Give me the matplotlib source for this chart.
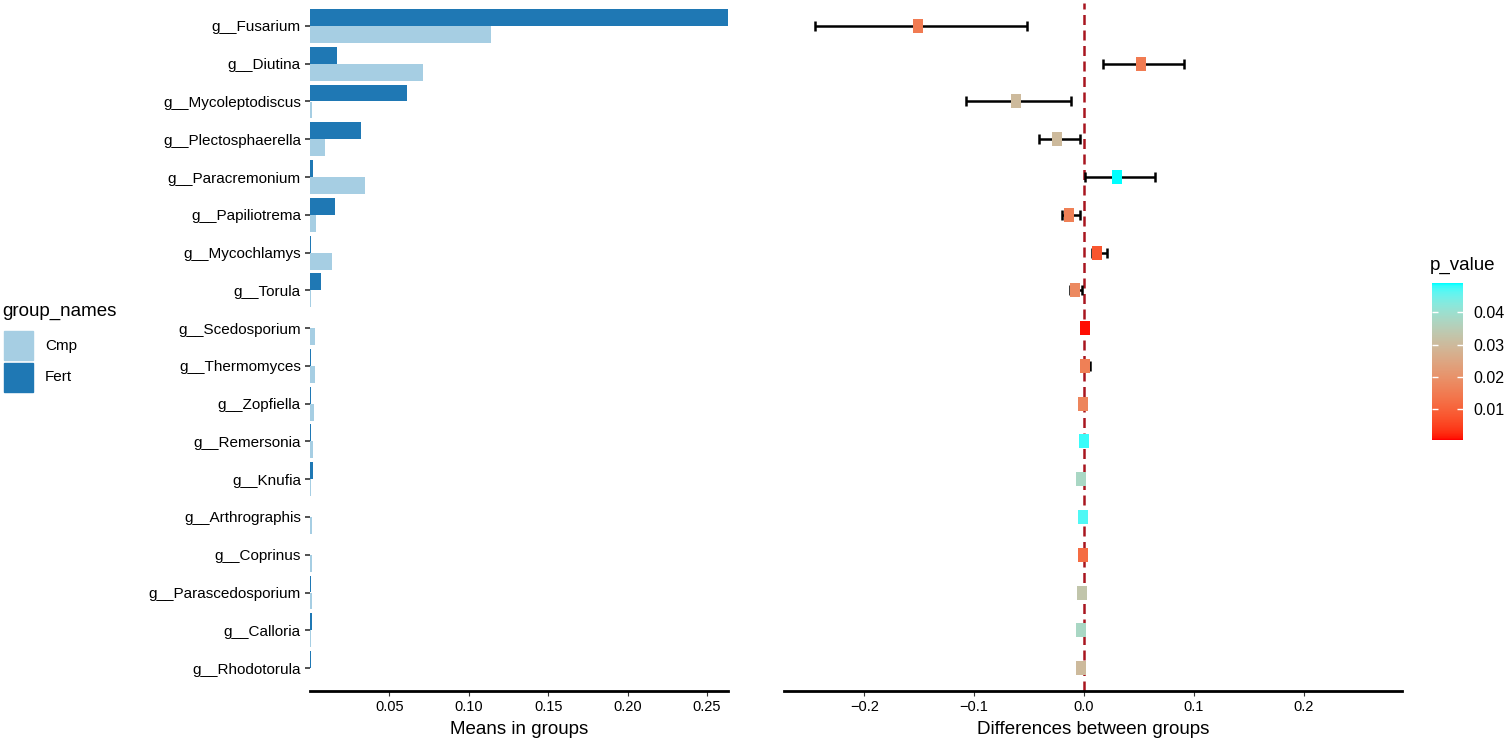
import numpy as np
import matplotlib
matplotlib.use("Agg")
import matplotlib.pyplot as plt
from matplotlib.colors import ListedColormap, Normalize
from matplotlib.patches import Rectangle

plt.rcParams['font.family'] = ['Liberation Sans', 'DejaVu Sans']

genus = ["g__Fusarium", "g__Diutina", "g__Mycoleptodiscus", "g__Plectosphaerella",
         "g__Paracremonium", "g__Papiliotrema", "g__Mycochlamys", "g__Torula",
         "g__Scedosporium", "g__Thermomyces", "g__Zopfiella", "g__Remersonia",
         "g__Knufia", "g__Arthrographis", "g__Coprinus", "g__Parascedosporium",
         "g__Calloria", "g__Rhodotorula"]

# mean abundance per group
cmp_mean = [0.1140, 0.0709, 0.0012, 0.0096, 0.0346, 0.0040, 0.0139, 0.0006, 0.0034,
            0.0031, 0.0025, 0.0019, 0.0005, 0.0015, 0.0015, 0.0015, 0.0008, 0.0003]
fert_mean = [0.2630, 0.0168, 0.0608, 0.0322, 0.0019, 0.0156, 0.0007, 0.0070, 0.0003,
             0.0008, 0.0008, 0.0005, 0.0017, 0.0003, 0.0002, 0.0007, 0.0012, 0.0005]

# difference between groups with confidence interval
diff = [-0.1508, 0.0516, -0.0619, -0.0246, 0.0300, -0.0139, 0.0115, -0.0082, 0.0012,
        0.0012, -0.0006, -0.0003, -0.0025, -0.0009, -0.0009, -0.0015, -0.0025, -0.0025]
ci_low = [-0.2452, 0.0170, -0.1074, -0.0410, 0.0006, -0.0197, 0.0075, -0.0125, 0.0004,
          -0.0020, -0.0020, -0.0015, -0.0040, -0.0020, -0.0020, -0.0025, -0.0035, -0.0035]
ci_high = [-0.0516, 0.0913, -0.0115, -0.0033, 0.0649, -0.0036, 0.0205, -0.0018, 0.0020,
           0.0055, 0.0010, 0.0010, -0.0010, 0.0003, 0.0003, -0.0005, -0.0015, -0.0015]
p_value = [0.015, 0.015, 0.030, 0.030, 0.049, 0.016, 0.008, 0.018, 0.001,
           0.016, 0.017, 0.048, 0.038, 0.047, 0.012, 0.033, 0.038, 0.030]

group_names = ["Cmp", "Fert"]
group_colors = ["#A6CEE3", "#1F78B4"]


def srgb_to_lab(rgb):
    c = np.asarray(rgb, float) / 255
    c = np.where(c > 0.04045, ((c + 0.055) / 1.055) ** 2.4, c / 12.92)
    M = np.array([[0.4124, 0.3576, 0.1805], [0.2126, 0.7152, 0.0722], [0.0193, 0.1192, 0.9505]])
    xyz = M @ c / np.array([0.95047, 1.0, 1.08883])
    f = np.where(xyz > 0.008856, np.cbrt(xyz), 7.787 * xyz + 16 / 116)
    return np.array([116 * f[1] - 16, 500 * (f[0] - f[1]), 200 * (f[1] - f[2])])


def lab_to_srgb(lab):
    L, a, b = lab
    fy = (L + 16) / 116
    fx = fy + a / 500
    fz = fy - b / 200
    f = np.array([fx, fy, fz])
    xyz = np.where(f ** 3 > 0.008856, f ** 3, (f - 16 / 116) / 7.787) * np.array([0.95047, 1.0, 1.08883])
    Minv = np.array([[3.2406, -1.5372, -0.4986], [-0.9689, 1.8758, 0.0415], [0.0557, -0.2040, 1.0570]])
    c = Minv @ xyz
    c = np.where(c > 0.0031308, 1.055 * np.clip(c, 0, None) ** (1 / 2.4) - 0.055, 12.92 * c)
    return np.clip(c, 0, 1)


# ggplot-like gradient red -> cyan, interpolated in Lab
lo, hi = srgb_to_lab([255, 0, 0]), srgb_to_lab([0, 255, 255])
cmap = ListedColormap([lab_to_srgb(lo + (hi - lo) * t) for t in np.linspace(0, 1, 256)])
norm = Normalize(vmin=0.0005, vmax=0.049)

W, H = 1508, 741
fig = plt.figure(figsize=(W / 100, H / 100), dpi=100)


def px_axes(x0, y0, x1, y1):
    return fig.add_axes([x0 / W, (H - y1) / H, (x1 - x0) / W, (y1 - y0) / H])


n = len(genus)
y = np.arange(n)
bh = 0.45

# left panel: means in groups
ax1 = px_axes(310, 3.3, 728, 690.7)
ax1.barh(y - bh / 2, fert_mean, height=bh, color=group_colors[1])
ax1.barh(y + bh / 2, cmp_mean, height=bh, color=group_colors[0])
ax1.set_xlim(0, 0.2632)
ax1.set_yticks(y)
ax1.set_yticklabels(genus, fontsize=11)
ax1.set_xticks([0.05, 0.10, 0.15, 0.20, 0.25])
ax1.set_xticklabels(["0.05", "0.10", "0.15", "0.20", "0.25"], fontsize=10.5)
ax1.set_xlabel("Means in groups", fontsize=13.5, labelpad=5)

# right panel: differences
ax2 = px_axes(784, 3.3, 1401.6, 690.7)
xerr = [np.array(diff) - np.array(ci_low), np.array(ci_high) - np.array(diff)]
ax2.errorbar(diff, y, xerr=xerr, fmt="none", ecolor="black", elinewidth=1.8,
             capsize=3.5, capthick=1.8, zorder=2)
ax2.axvline(0, color="#A8151F", linestyle=(0, (4, 2.2)), linewidth=1.8, zorder=1)
rect = [(-0.38, -0.5), (0.38, -0.5), (0.38, 0.5), (-0.38, 0.5), (-0.38, -0.5)]
for xi, yi, pv in zip(diff, y, p_value):
    ax2.plot(xi, yi, marker=rect, markersize=10, markeredgewidth=0,
             color=cmap(norm(pv)), zorder=3)
ax2.set_xlim(-0.273, 0.289)
ax2.set_yticks([])
ax2.set_xticks([-0.2, -0.1, 0.0, 0.1, 0.2])
ax2.set_xticklabels(["\u22120.2", "\u22120.1", "0.0", "0.1", "0.2"], fontsize=10.5)
ax2.set_xlabel("Differences between groups", fontsize=13.5, labelpad=5)

for ax in (ax1, ax2):
    for s in ("top", "right", "left"):
        ax.spines[s].set_visible(False)
    ax.spines["bottom"].set_linewidth(2)
    ax.tick_params(axis="x", length=3.5, width=0.8, color="#333333", pad=3)
    ax.tick_params(axis="y", length=3.5, width=1.2, color="#333333", pad=3)
    ax.set_ylim(n - 0.4, -0.6)

# group legend
axl = px_axes(0, 290, 160, 400)
axl.set_xlim(0, 160)
axl.set_ylim(400, 290)
axl.axis("off")
axl.text(2, 312, "group_names", fontsize=13.5, va="center", ha="left")
for i, (nm, col) in enumerate(zip(group_names, group_colors)):
    top = 331.5 + i * 31.5
    axl.add_patch(Rectangle((4, top), 29, 29, color=col))
    axl.text(45, top + 14.5, nm, fontsize=11, va="center", ha="left")

# colour bar
cax = px_axes(1432, 283.3, 1462.7, 440)
cb = fig.colorbar(plt.cm.ScalarMappable(norm=norm, cmap=cmap), cax=cax)
cb.outline.set_visible(False)
cb.set_ticks([0.01, 0.02, 0.03, 0.04])
cb.set_ticklabels(["0.01", "0.02", "0.03", "0.04"])
cax.tick_params(length=4, width=1, color="white", direction="in", labelsize=11.5, pad=8,
                left=True, right=True)
fig.text(1430 / W, 1 - 265 / H, "p_value", fontsize=13.5, va="center", ha="left")

fig.savefig("out.png", dpi=100)
